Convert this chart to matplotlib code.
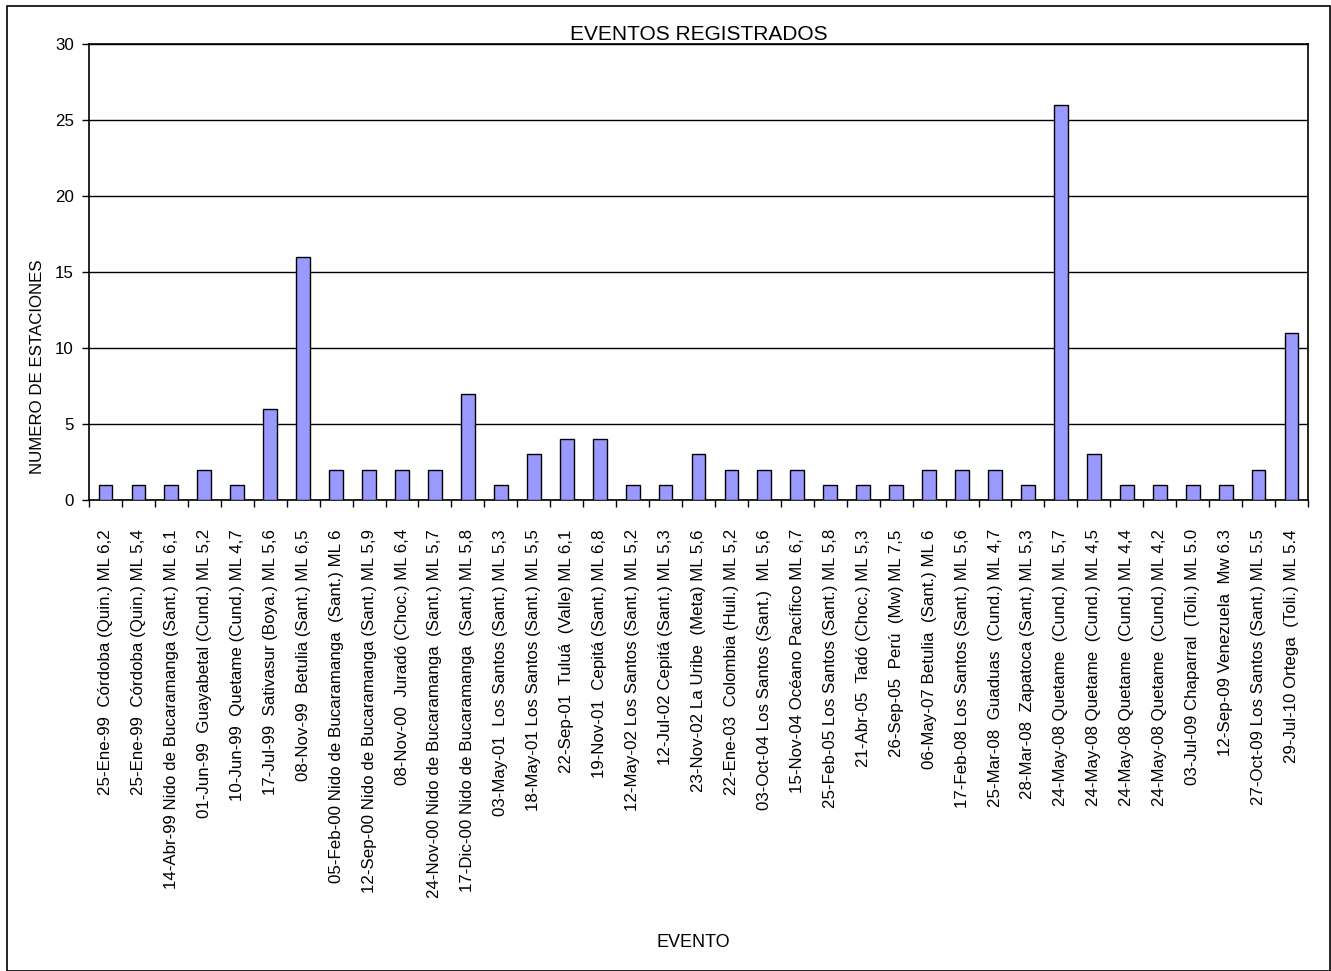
import numpy as np
import matplotlib.pyplot as plt
from matplotlib.patches import Rectangle

plt.rcParams['font.family'] = ['Liberation Sans', 'DejaVu Sans']

eventos = [
    "25-Ene-99  Córdoba (Quin.) ML 6,2",
    "25-Ene-99  Córdoba (Quin.) ML 5,4",
    "14-Abr-99 Nido de Bucaramanga (Sant.) ML 6,1",
    "01-Jun-99  Guayabetal (Cund.) ML 5,2",
    "10-Jun-99  Quetame (Cund.) ML 4,7",
    "17-Jul-99  Sativasur (Boya.) ML 5,6",
    "08-Nov-99  Betulia (Sant.) ML 6,5",
    "05-Feb-00 Nido de Bucaramanga  (Sant.) ML 6",
    "12-Sep-00 Nido de Bucaramanga (Sant.) ML 5,9",
    "08-Nov-00  Juradó (Choc.) ML 6,4",
    "24-Nov-00 Nido de Bucaramanga  (Sant.) ML 5,7",
    "17-Dic-00 Nido de Bucaramanga  (Sant.) ML 5,8",
    "03-May-01  Los Santos (Sant.) ML 5,3",
    "18-May-01 Los Santos (Sant.) ML 5,5",
    "22-Sep-01  Tuluá  (Valle) ML 6,1",
    "19-Nov-01  Cepitá (Sant.) ML 6,8",
    "12-May-02 Los Santos (Sant.) ML 5,2",
    "12-Jul-02 Cepitá (Sant.) ML 5,3",
    "23-Nov-02 La Uribe  (Meta) ML 5,6",
    "22-Ene-03  Colombia (Huil.) ML 5,2",
    "03-Oct-04 Los Santos (Sant.)  ML 5,6",
    "15-Nov-04 Océano Pacífico ML 6,7",
    "25-Feb-05 Los Santos (Sant.) ML 5,8",
    "21-Abr-05  Tadó (Choc.) ML 5,3",
    "26-Sep-05  Perú  (Mw) ML 7,5",
    "06-May-07 Betulia  (Sant.) ML 6",
    "17-Feb-08 Los Santos (Sant.) ML 5,6",
    "25-Mar-08  Guaduas  (Cund.) ML 4,7",
    "28-Mar-08  Zapatoca (Sant.) ML 5,3",
    "24-May-08 Quetame  (Cund.) ML 5,7",
    "24-May-08 Quetame  (Cund.) ML 4,5",
    "24-May-08 Quetame  (Cund.) ML 4,4",
    "24-May-08 Quetame  (Cund.) ML 4,2",
    "03-Jul-09 Chaparral  (Toli.) ML 5.0",
    "12-Sep-09 Venezuela  Mw 6.3",
    "27-Oct-09 Los Santos (Sant.) ML 5.5",
    "29-Jul-10 Ortega  (Toli.) ML 5.4",
]
estaciones = [1, 1, 1, 2, 1, 6, 16, 2, 2, 2, 2, 7, 1, 3, 4, 4, 1, 1, 3, 2,
              2, 2, 1, 1, 1, 2, 2, 2, 1, 26, 3, 1, 1, 1, 1, 2, 11]

fig = plt.figure(figsize=(13.31, 9.71), dpi=100)
ax = fig.add_axes([0.0669, 0.485, 0.9158, 0.4697])

x = np.arange(len(eventos))
ax.bar(x, estaciones, width=0.42, color='#9999FF', edgecolor='black', linewidth=1, zorder=3)

ax.set_xlim(-0.5, len(eventos) - 0.5)
ax.set_ylim(0, 30)
ax.set_yticks(range(0, 31, 5))
ax.yaxis.grid(True, color='black', linewidth=1, zorder=0)
ax.tick_params(axis='y', labelsize=12.2, length=5, width=1, direction='out', pad=6)

ax.set_xticks(x)
ax.set_xticklabels(eventos, rotation=90, fontsize=12.2, va='top', ha='center')
ax.tick_params(axis='x', which='major', length=0, pad=21)
ax.set_xticks(np.arange(-0.5, len(eventos), 1), minor=True)
ax.tick_params(axis='x', which='minor', length=5, width=1, direction='out')

for s in ax.spines.values():
    s.set_linewidth(1.2)

ax.set_title('EVENTOS REGISTRADOS', fontsize=15, pad=1)
fig.text(0.028, 0.622, 'NUMERO DE ESTACIONES', rotation=90, fontsize=12.2, ha='center', va='center')
fig.text(0.5207, 0.029, 'EVENTO', fontsize=13, ha='center', va='center')

fig.patches.append(Rectangle((0.0053, 0.0), 0.994, 0.9938, transform=fig.transFigure,
                             fill=False, edgecolor='black', linewidth=1.2))

fig.savefig('out.png', dpi=100)
